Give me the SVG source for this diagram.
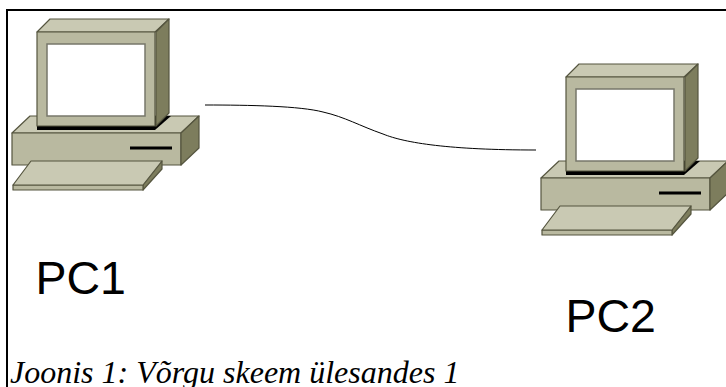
<svg xmlns="http://www.w3.org/2000/svg" width="726" height="387" viewBox="0 0 726 387">
<style>
.l{fill:#c9c9b3;stroke:#55553f;stroke-width:1.2;stroke-linejoin:round}
.m{fill:#b9b9a0;stroke:#55553f;stroke-width:1.2;stroke-linejoin:round}
.d{fill:#7d7d5d;stroke:#55553f;stroke-width:1.2;stroke-linejoin:round}
.s{fill:#fff;stroke:#77776a;stroke-width:1.5}
.t{font-family:"Liberation Sans",Arial,sans-serif;font-size:46.500px;fill:#000}
.c{font-family:"Liberation Serif","Times New Roman",serif;font-style:italic;font-size:32px;fill:#000}
</style>
<defs>
<g id="pc">
<polygon class="l" points="12,133 30,116 199,116 181,133"/>
<rect class="m" x="12" y="133" width="169" height="32"/>
<polygon class="d" points="181,133 199,116 199,148 181,165"/>
<rect x="130" y="146.500" width="42" height="3" fill="#000"/>
<polygon fill="#000" points="37,126 37,130 155,130 171,116 155,116"/>
<polygon class="l" points="37,32 50,19 169,19 155,32"/>
<polygon class="d" points="156,32 169,19 169,113 156,126"/>
<rect class="m" x="37" y="32" width="118" height="94"/>
<rect class="s" x="47" y="44" width="98" height="72"/>
<polygon class="d" points="143,185 162,161 162,169 143,190"/>
<rect class="m" x="13" y="185" width="130" height="5"/>
<polygon class="l" points="13,185 31,161 162,161 143,185"/>
</g>
</defs>
<rect width="726" height="387" fill="#fff"/>
<path d="M7 387V10H726" fill="none" stroke="#000" stroke-width="2"/>
<g id="PC1"><use href="#pc"/><text class="t" x="35.500" y="294">PC1</text></g>
<g id="PC2"><use href="#pc" x="529" y="45"/><text class="t" x="565.500" y="332">PC2</text></g>
<g id="connectors"><path d="M205 105C250 105 300 106 323 112C345 117 360 126 383 134C405 143 450 150 536 150" fill="none" stroke="#000" stroke-width="1"/></g>
<text class="c" x="10" y="383">Joonis 1: Võrgu skeem ülesandes 1</text>
</svg>
